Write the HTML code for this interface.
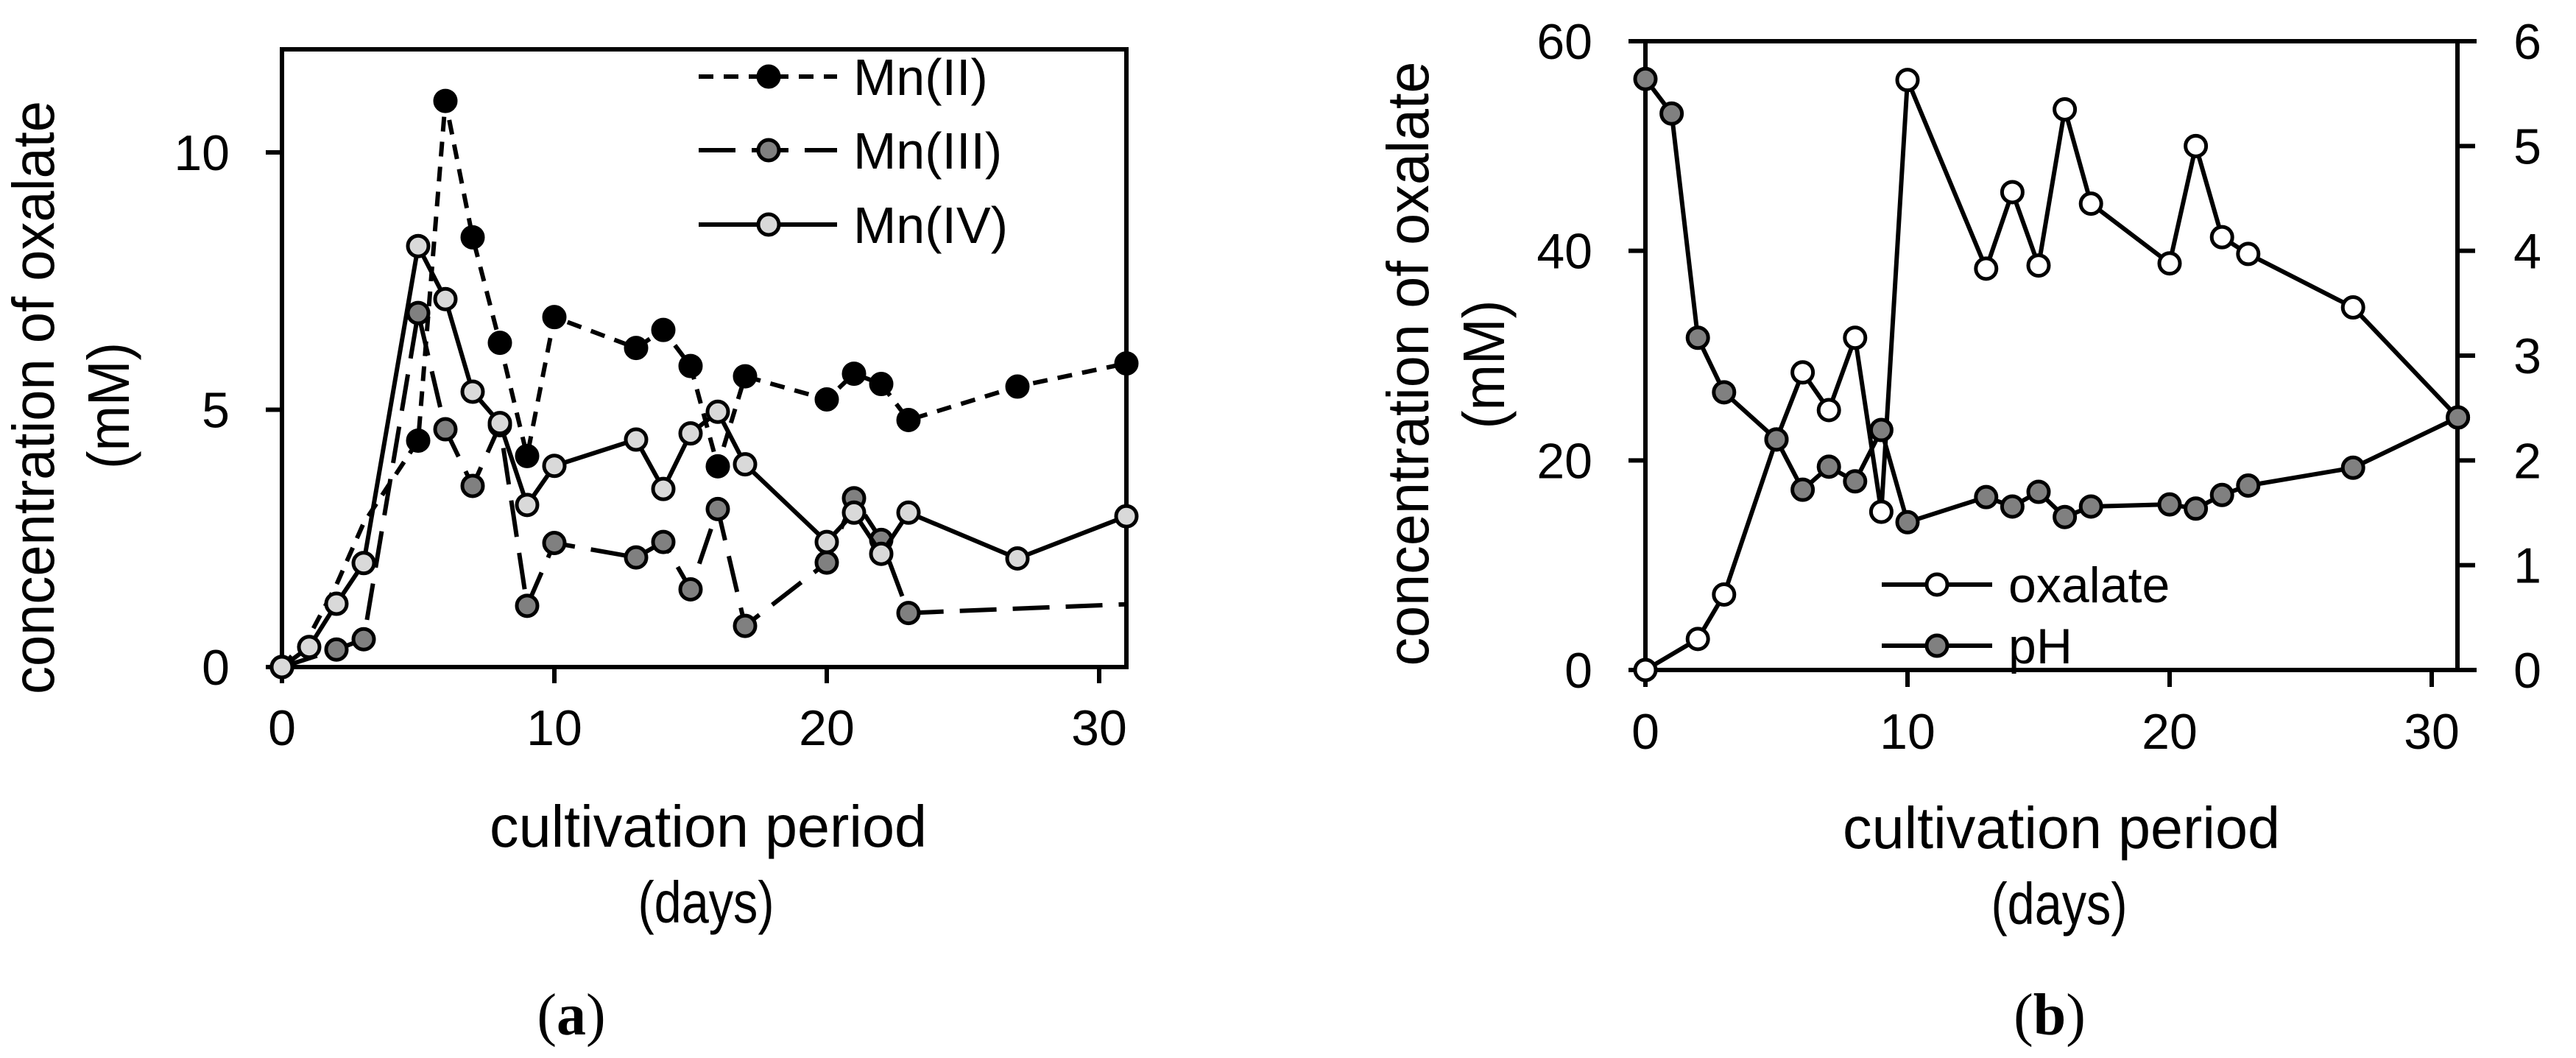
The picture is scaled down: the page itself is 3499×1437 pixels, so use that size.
<!DOCTYPE html>
<html><head><meta charset="utf-8"><style>
html,body{margin:0;padding:0;background:#fff;}
svg{display:block;}
text{font-family:"Liberation Sans",sans-serif;fill:#000;}
</style></head><body>
<svg id="fig" width="3499" height="1437" viewBox="0 0 3499 1437"></svg>
<script>
// ---------- Panel (a) data ----------
const daysA2 = [0,1,2,3,5,6,7,8,9,10,13,14,15,16,17,20,21,22,23,27,31];
const mn2 = [0,0.6,1.6,2.8,4.4,11.0,8.35,6.3,4.1,6.8,6.2,6.55,5.85,3.9,5.65,5.2,5.7,5.5,4.8,5.45,5.9];
const mn2Marker = [1,0,0,0,1,1,1,1,1,1,1,1,1,1,1,1,1,1,1,1,1];
const daysA3 = [0,2,3,5,6,7,8,9,10,13,14,15,16,17,20,21,22,23,31];
const mn3 = [0,0.34,0.54,6.88,4.62,3.52,4.7,1.19,2.41,2.13,2.43,1.51,3.07,0.8,2.03,3.28,2.47,1.05,1.22];
const mn3Marker = [1,1,1,1,1,1,1,1,1,1,1,1,1,1,1,1,1,1,0];
const daysA4 = [0,1,2,3,5,6,7,8,9,10,13,14,15,16,17,20,21,22,23,27,31];
const mn4 = [0,0.39,1.23,2.02,8.18,7.15,5.35,4.74,3.15,3.91,4.42,3.46,4.54,4.96,3.94,2.43,3.0,2.2,3.0,2.11,2.93];
const xTicksA = [0,10,20,30];
const yTicksA = [0,5,10];
// ---------- Panel (b) data ----------
const daysB = [0,2,3,5,6,7,8,9,10,13,14,15,16,17,20,21,22,23,27,31];
const oxalate = [0,2.96,7.2,22.0,28.4,24.8,31.7,15.1,56.3,38.3,45.6,38.6,53.5,44.5,38.8,50.0,41.3,39.7,34.6,24.1];
const daysPH = [0,1,2,3,5,6,7,8,9,10,13,14,15,16,17,20,21,22,23,27,31];
const ph = [5.64,5.31,3.17,2.65,2.2,1.72,1.94,1.80,2.29,1.41,1.65,1.56,1.70,1.46,1.56,1.58,1.54,1.67,1.76,1.93,2.41];
const xTicksB = [0,10,20,30];
const yTicksB = [0,20,40,60];
const yTicksPH = [0,1,2,3,4,5,6];

const NS = "http://www.w3.org/2000/svg";
const svg = document.getElementById('fig');
function mk(tag, attrs, parent, txt){
  const e = document.createElementNS(NS, tag);
  for (const k in attrs) e.setAttribute(k, attrs[k]);
  if (txt !== undefined) e.textContent = txt;
  (parent || svg).appendChild(e);
  return e;
}
const LW = 6, R = 14, TF = 68;

const xA = d => 383 + d * 37.0;
const yA = v => 906 - v * 69.9;
const xB = d => 2235 + d * 35.6;
const yB = v => 910 - v * (854 / 60);
const yP = v => 910 - v * (854 / 6);

function series(name, xs, ys, xf, yf, dash, fill, markers){
  const g = mk('g', {});
  
  
  const pts = xs.map((d, i) => xf(d).toFixed(1) + ',' + yf(ys[i]).toFixed(1)).join(' ');
  const pl = mk('polyline', {points: pts, fill: 'none', stroke: '#000', 'stroke-width': LW, 'stroke-dasharray': dash, 'stroke-linejoin': 'round'}, g);
  
  
  xs.forEach((d, i) => {
    if (markers && !markers[i]) return;
    const c = mk('circle', {cx: xf(d), cy: yf(ys[i]), r: R, fill: fill, stroke: '#000', 'stroke-width': 5}, g);
    
    
  });
}

// ---------- Panel (a) ----------
const gA = mk('g', {});


const boxA = mk('rect', {x: 383, y: 67, width: 1147, height: 839, fill: 'none', stroke: '#000', 'stroke-width': LW}, gA);


yTicksA.forEach(v => {
  const t = mk('line', {x1: 361, x2: 383, y1: yA(v), y2: yA(v), stroke: '#000', 'stroke-width': LW}, gA);
  
  
  const l = mk('text', {x: 312, y: yA(v) + 24, 'font-size': TF, 'text-anchor': 'end'}, gA, String(v));
  
  
});
xTicksA.forEach(v => {
  const t = mk('line', {x1: xA(v), x2: xA(v), y1: 906, y2: 928, stroke: '#000', 'stroke-width': LW}, gA);
  
  
  const l = mk('text', {x: xA(v), y: 1012, 'font-size': TF, 'text-anchor': 'middle'}, gA, String(v));
  
  
});
let t;
t = mk('text', {transform: 'translate(73,540) rotate(-90)', 'font-size': 80, 'text-anchor': 'middle', textLength: 806, lengthAdjust: 'spacingAndGlyphs'}, gA, 'concentration of oxalate');


t = mk('text', {transform: 'translate(175,551) rotate(-90)', 'font-size': 80, 'text-anchor': 'middle', textLength: 172, lengthAdjust: 'spacingAndGlyphs'}, gA, '(mM)');


t = mk('text', {x: 962, y: 1150, 'font-size': 80, 'text-anchor': 'middle', textLength: 594, lengthAdjust: 'spacingAndGlyphs'}, gA, 'cultivation period');


t = mk('text', {x: 959, y: 1253, 'font-size': 80, 'text-anchor': 'middle', textLength: 185, lengthAdjust: 'spacingAndGlyphs'}, gA, '(days)');


t = mk('text', {x: 776, y: 1405, 'font-size': 80, 'text-anchor': 'middle', style: 'font-family:"Liberation Serif",serif'}, gA);
t.innerHTML = '(<tspan font-weight="bold">a</tspan>)';



series('mn-ii-series', daysA2, mn2, xA, yA, '20 14', '#000', mn2Marker);
series('mn-iii-series', daysA3, mn3, xA, yA, '50 22', '#808080', mn3Marker);
series('mn-iv-series', daysA4, mn4, xA, yA, 'none', '#d9d9d9', null);

const legA = [['Mn(II)', '20 14', '#000', 104], ['Mn(III)', '50 22', '#808080', 204], ['Mn(IV)', 'none', '#d9d9d9', 305]];
legA.forEach(([lab, dash, fill, y]) => {
  const g = mk('g', {}, gA);
  
  
  mk('line', {x1: 949, x2: 1137, y1: y, y2: y, stroke: '#000', 'stroke-width': LW, 'stroke-dasharray': dash}, g);
  mk('circle', {cx: 1044, cy: y, r: R, fill: fill, stroke: '#000', 'stroke-width': 5}, g);
  mk('text', {x: 1159, y: y + 25, 'font-size': 70}, g, lab);
});

// ---------- Panel (b) ----------
const gB = mk('g', {});


t = mk('line', {x1: 2235, x2: 2235, y1: 56, y2: 910, stroke: '#000', 'stroke-width': LW}, gB);


t = mk('line', {x1: 3338, x2: 3338, y1: 56, y2: 910, stroke: '#000', 'stroke-width': LW}, gB);


t = mk('line', {x1: 2212, x2: 3364, y1: 56, y2: 56, stroke: '#000', 'stroke-width': LW}, gB);


t = mk('line', {x1: 2212, x2: 3364, y1: 910, y2: 910, stroke: '#000', 'stroke-width': LW}, gB);


yTicksB.forEach(v => {
  const tk = mk('line', {x1: 2212, x2: 2235, y1: yB(v), y2: yB(v), stroke: '#000', 'stroke-width': LW}, gB);
  
  
  const l = mk('text', {x: 2163, y: yB(v) + 24, 'font-size': TF, 'text-anchor': 'end'}, gB, String(v));
  
  
});
yTicksPH.forEach(v => {
  const tk = mk('line', {x1: 3338, x2: 3362, y1: yP(v), y2: yP(v), stroke: '#000', 'stroke-width': LW}, gB);
  
  
  const l = mk('text', {x: 3433, y: yP(v) + 24, 'font-size': TF, 'text-anchor': 'middle'}, gB, String(v));
  
  
});
xTicksB.forEach(v => {
  const tk = mk('line', {x1: xB(v), x2: xB(v), y1: 910, y2: 933, stroke: '#000', 'stroke-width': LW}, gB);
  
  
  const l = mk('text', {x: xB(v), y: 1017, 'font-size': TF, 'text-anchor': 'middle'}, gB, String(v));
  
  
});
t = mk('text', {transform: 'translate(1940,494) rotate(-90)', 'font-size': 80, 'text-anchor': 'middle', textLength: 821, lengthAdjust: 'spacingAndGlyphs'}, gB, 'concentration of oxalate');


t = mk('text', {transform: 'translate(2043,495) rotate(-90)', 'font-size': 80, 'text-anchor': 'middle', textLength: 175, lengthAdjust: 'spacingAndGlyphs'}, gB, '(mM)');


t = mk('text', {x: 2800, y: 1152, 'font-size': 80, 'text-anchor': 'middle', textLength: 594, lengthAdjust: 'spacingAndGlyphs'}, gB, 'cultivation period');


t = mk('text', {x: 2797, y: 1255, 'font-size': 80, 'text-anchor': 'middle', textLength: 185, lengthAdjust: 'spacingAndGlyphs'}, gB, '(days)');


t = mk('text', {x: 2784, y: 1405, 'font-size': 80, 'text-anchor': 'middle', style: 'font-family:"Liberation Serif",serif'}, gB);
t.innerHTML = '(<tspan font-weight="bold">b</tspan>)';



series('oxalate-series', daysB, oxalate, xB, yB, 'none', '#fff', null);
series('ph-series', daysPH, ph, xB, yP, 'none', '#808080', null);

const legB = [['oxalate', '#fff', 794], ['pH', '#808080', 877]];
legB.forEach(([lab, fill, y]) => {
  const g = mk('g', {}, gB);
  
  
  mk('line', {x1: 2556, x2: 2706, y1: y, y2: y, stroke: '#000', 'stroke-width': LW}, g);
  mk('circle', {cx: 2631, cy: y, r: R, fill: fill, stroke: '#000', 'stroke-width': 5}, g);
  mk('text', {x: 2728, y: y + 24, 'font-size': 68}, g, lab);
});
</script>
</body></html>
